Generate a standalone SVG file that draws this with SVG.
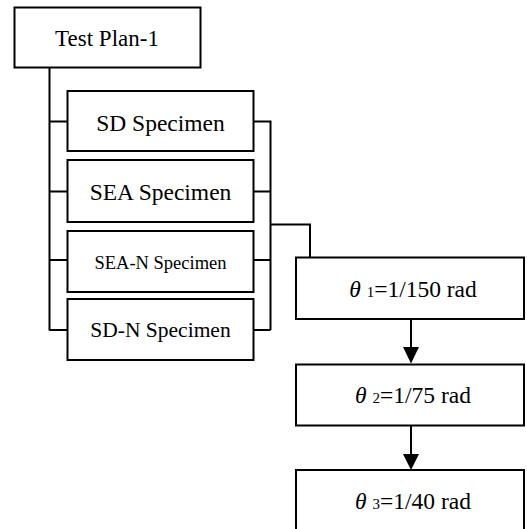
<svg xmlns="http://www.w3.org/2000/svg" width="527" height="529" viewBox="0 0 527 529">
<defs>
<style>
.box{fill:#fff;stroke:#000;stroke-width:2}
.ln{fill:none;stroke:#000;stroke-width:2}
text{font-family:"Liberation Serif","Times New Roman",serif;fill:#000;text-anchor:middle}
.th{font-style:italic}
.sub{font-size:15px}
</style>
</defs>
<rect width="527" height="529" fill="#fff"/>
<g id="connectors">
<path class="ln" d="M49.5 68V330.5M49.5 121.5H67.5M49.5 191.5H67.5M49.5 260H67.5M49.5 330H67.5"/>
<path class="ln" d="M253.5 121.5H270.5V330M253.5 191.5H270.5M253.5 260H270.5M253.5 330H270.5"/>
<path class="ln" d="M270.5 224.5H310V257.5"/>
<path class="ln" d="M411 319V349M411 425.5V455"/>
<polygon points="403,347 419,347 411,363.5"/>
<polygon points="403,454 419,454 411,470"/>
</g>
<g id="test-plan"><rect class="box" x="14.5" y="7.5" width="186" height="60"/><text x="107" y="46" font-size="23">Test Plan-1</text></g>
<g id="sd"><rect class="box" x="67.5" y="91" width="186" height="60"/><text x="160.5" y="130.5" font-size="23.5">SD Specimen</text></g>
<g id="sea"><rect class="box" x="67.5" y="160" width="186" height="62"/><text x="160.5" y="200" font-size="23.5">SEA Specimen</text></g>
<g id="sea-n"><rect class="box" x="67.5" y="231" width="186" height="61"/><text x="160.5" y="269" font-size="18.5">SEA-N Specimen</text></g>
<g id="sd-n"><rect class="box" x="67.5" y="299" width="186" height="61"/><text x="160.5" y="336.5" font-size="21.5">SD-N Specimen</text></g>
<g id="theta1"><rect class="box" x="296" y="257.5" width="228" height="61.5"/><text x="413" y="297" font-size="23.5"><tspan class="th">θ</tspan> <tspan class="sub">1</tspan>=1/150 rad</text></g>
<g id="theta2"><rect class="box" x="296" y="364.5" width="228" height="61"/><text x="413" y="403" font-size="23.5"><tspan class="th">θ</tspan> <tspan class="sub">2</tspan>=1/75 rad</text></g>
<g id="theta3"><rect class="box" x="296" y="470" width="228" height="70"/><text x="413" y="509" font-size="23.5"><tspan class="th">θ</tspan> <tspan class="sub">3</tspan>=1/40 rad</text></g>
</svg>
